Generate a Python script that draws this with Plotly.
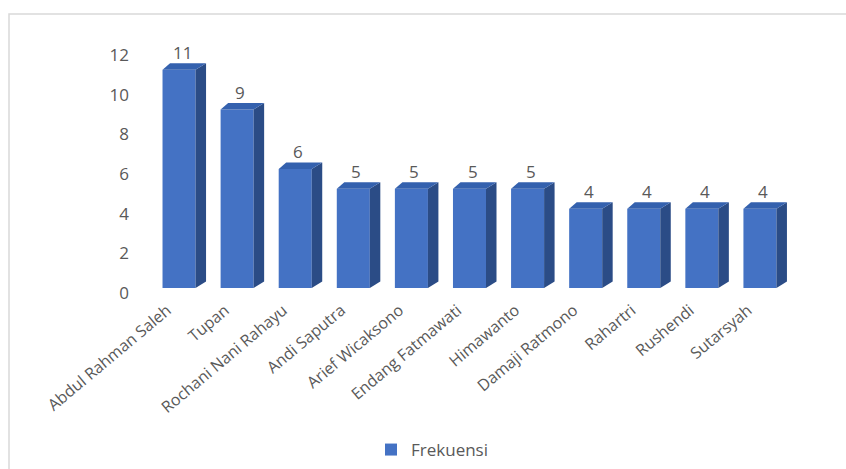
import plotly.graph_objects as go

categories = ["Abdul Rahman Saleh", "Tupan", "Rochani Nani Rahayu", "Andi Saputra",
              "Arief Wicaksono", "Endang Fatmawati", "Himawanto", "Damaji Ratmono",
              "Rahartri", "Rushendi", "Sutarsyah"]
values = [11, 9, 6, 5, 5, 5, 5, 4, 4, 4, 4]
y_ticks = [0, 2, 4, 6, 8, 10, 12]
series_name = "Frekuensi"

FRONT = "#4472C4"
SIDE = "#2B4C86"
TOP = "#3461AE"
TXT = "#595959"
FONT = "Open Sans"

W, H = 846, 469
L, R, T, B = 150, 57, 50, 181
plot_h = H - T - B
ymax = 12.0
px_per_unit = plot_h / ymax
half_w = 16.5
dx_r, dx_l, dy_px = 10.5, 7.5, 6.5
d = dy_px / px_per_unit

xs = list(range(len(categories)))

fig = go.Figure()
fig.add_trace(go.Bar(x=xs, y=values, name=series_name, marker=dict(color=FRONT, line=dict(width=0)),
                     showlegend=True))

shapes = []
annotations = []
for i, v in zip(xs, values):
    # side face
    shapes.append(dict(type="path", xref="x", yref="y", xsizemode="pixel", xanchor=i,
                       path=f"M {half_w},0 L {half_w+dx_r},{d} L {half_w+dx_r},{v+d} L {half_w},{v} Z",
                       fillcolor=SIDE, line=dict(width=0), layer="above"))
    # top face
    shapes.append(dict(type="path", xref="x", yref="y", xsizemode="pixel", xanchor=i,
                       path=f"M {-half_w},{v} L {half_w},{v} L {half_w+dx_r},{v+d} L {-half_w+dx_l},{v+d} Z",
                       fillcolor=TOP, line=dict(width=0), layer="above"))
    annotations.append(dict(x=i, y=v, xref="x", yref="y", text=str(v), showarrow=False,
                            yanchor="bottom", yshift=4, xshift=3,
                            font=dict(family=FONT, size=17, color=TXT)))

# chart frame
shapes.append(dict(type="rect", xref="paper", yref="paper",
                   x0=(9 - L) / (W - L - R), x1=(W + 20 - L) / (W - L - R),
                   y0=-(H + 20 - (H - B)) / plot_h, y1=((H - B) - 14) / plot_h,
                   line=dict(color="#D9D9D9", width=1.5), fillcolor="rgba(0,0,0,0)", layer="below"))

fig.update_layout(
    width=W, height=H,
    margin=dict(l=L, r=R, t=T, b=B, autoexpand=False),
    paper_bgcolor="white", plot_bgcolor="white",
    bargap=1 - 33 / 58,
    shapes=shapes, annotations=annotations,
    font=dict(family=FONT, color=TXT),
    legend=dict(orientation="h", x=(432 - L) / (W - L - R), xanchor="center",
                y=-(450 - (H - B)) / plot_h, yanchor="middle",
                font=dict(family=FONT, size=17, color=TXT), itemwidth=30),
    xaxis=dict(range=[-0.5, len(categories) - 0.5], tickvals=xs, ticktext=categories,
               tickangle=-40, showgrid=False, zeroline=False, showline=False, ticks="",
               automargin=False, ticklabelstandoff=9, ticklabelshift=-12,
               tickfont=dict(family=FONT, size=16, color=TXT)),
    yaxis=dict(range=[0, ymax], tickvals=y_ticks, showgrid=False, zeroline=False,
               showline=False, ticks="", ticklabelstandoff=20, ticklabelshift=5,
               automargin=False,
               tickfont=dict(family=FONT, size=17, color=TXT)),
)

fig.write_html("out.html")
